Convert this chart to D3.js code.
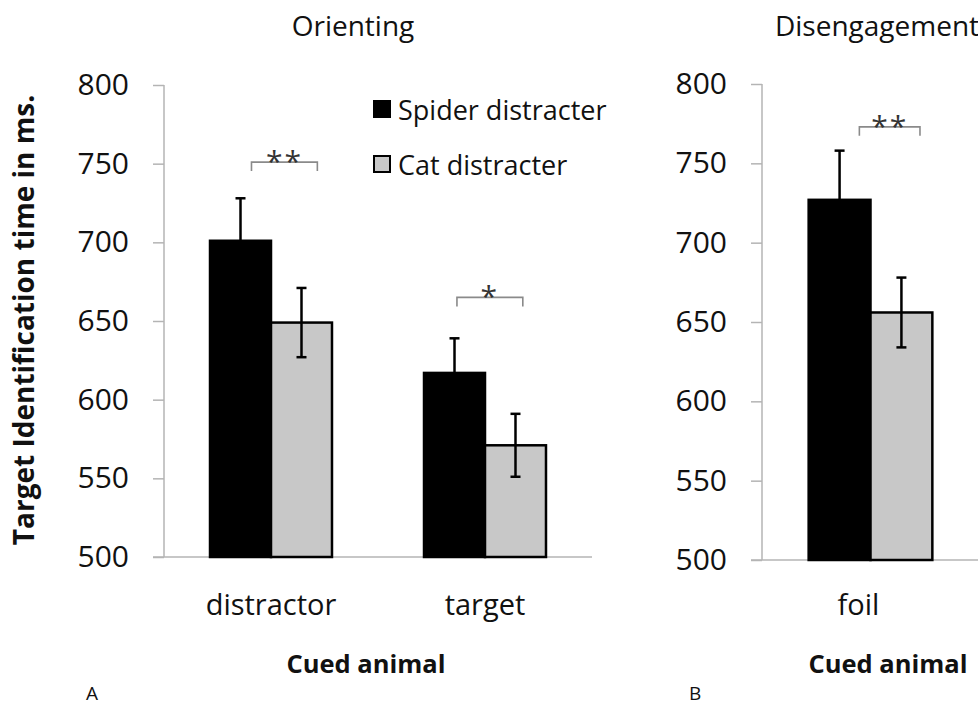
<!DOCTYPE html>
<html>
<head>
<meta charset="utf-8">
<script src="https://cdn.jsdelivr.net/npm/d3@7"></script>
<style>
  html, body { margin: 0; padding: 0; background: #fff; }
  svg { display: block; font-family: "Open Sans", "Noto Sans", sans-serif; }
</style>
</head>
<body>
<svg id="chart" width="978" height="705"></svg>
<script>
// Mean target identification times (ms) with error-bar half widths
const series = ["Spider distracter", "Cat distracter"];
const orientingCategories = ["distractor", "target"];
const orientingSpider = [701, 617];
const orientingCat = [649, 571];
const orientingSpiderErr = [27, 22];
const orientingCatErr = [22, 20];

const disengageCategories = ["foil"];
const disengageSpider = [727];
const disengageCat = [656];
const disengageSpiderErr = [31];
const disengageCatErr = [22];

const yTicks = [500, 550, 600, 650, 700, 750, 800];

// Significance markers: category, stars, level (ms)
const orientingSig = [
  { cat: "distractor", stars: "**", level: 751 },
  { cat: "target", stars: "*", level: 665 }
];
const disengageSig = [
  { cat: "foil", stars: "**", level: 773 }
];

const svg = d3.select("#chart");
const colors = { "Spider distracter": "#000000", "Cat distracter": "#c8c8c8" };
const axisGrey = "#b4b4b4";

function panel(opt) {
  const g = svg.append("g");
  const y = d3.scaleLinear().domain([500, 800]).range([opt.y0, opt.y1]);
  const x = d3.scaleBand().domain(opt.categories).range([opt.x0, opt.x1])
    .paddingInner(0.43).paddingOuter(0.215);
  const xs = d3.scaleBand().domain(series).range([0, x.bandwidth()]);

  // y axis: light grey line with outward ticks, large tick labels
  const yAxis = d3.axisLeft(y).tickValues(yTicks).tickSize(11).tickPadding(24);
  const ya = g.append("g").attr("transform", `translate(${opt.x0},0)`).call(yAxis);
  ya.select(".domain").attr("stroke", axisGrey).attr("stroke-width", 1.5)
    .attr("d", `M0,${opt.y1}V${opt.y0}`);
  ya.selectAll(".tick line").attr("stroke", axisGrey).attr("stroke-width", 1.5);
  ya.selectAll(".tick text").attr("font-size", 30).attr("fill", "#111")
    .attr("font-family", "'Open Sans', sans-serif");

  // x axis baseline
  g.append("line")
    .attr("x1", opt.x0 - 11).attr("x2", opt.x1)
    .attr("y1", y(500)).attr("y2", y(500))
    .attr("stroke", axisGrey).attr("stroke-width", 1.5);

  const rows = [];
  opt.categories.forEach((c, i) => {
    rows.push({ cat: c, s: series[0], v: opt.spider[i], e: opt.spiderErr[i] });
    rows.push({ cat: c, s: series[1], v: opt.cat[i], e: opt.catErr[i] });
  });

  // bars
  g.selectAll("rect.bar").data(rows).join("rect")
    .attr("class", "bar")
    .attr("x", d => x(d.cat) + xs(d.s))
    .attr("y", d => y(d.v))
    .attr("width", xs.bandwidth())
    .attr("height", d => y(500) - y(d.v))
    .attr("fill", d => colors[d.s])
    .attr("stroke", "#000").attr("stroke-width", 2.5);

  // error bars
  const eb = g.selectAll("g.err").data(rows).join("g").attr("class", "err");
  const cx = d => x(d.cat) + xs(d.s) + xs.bandwidth() / 2;
  eb.append("line")
    .attr("x1", cx).attr("x2", cx)
    .attr("y1", d => y(d.v + d.e)).attr("y2", d => y(d.v - d.e))
    .attr("stroke", "#000").attr("stroke-width", 2.5);
  eb.append("line")
    .attr("x1", d => cx(d) - 5).attr("x2", d => cx(d) + 5)
    .attr("y1", d => y(d.v + d.e)).attr("y2", d => y(d.v + d.e))
    .attr("stroke", "#000").attr("stroke-width", 2.5);
  eb.append("line")
    .attr("x1", d => cx(d) - 5).attr("x2", d => cx(d) + 5)
    .attr("y1", d => y(d.v - d.e)).attr("y2", d => y(d.v - d.e))
    .attr("stroke", "#000").attr("stroke-width", 2.5);

  // significance brackets
  opt.sig.forEach((s, i) => {
    const bx0 = x(s.cat) + x.bandwidth() * opt.bracket[i][0];
    const bx1 = x(s.cat) + x.bandwidth() * opt.bracket[i][1];
    const by = y(s.level);
    g.append("path")
      .attr("d", `M${bx0},${by + 9}V${by}H${bx1}V${by + 9}`)
      .attr("fill", "none").attr("stroke", "#8a8a8a").attr("stroke-width", 1.6);
    g.append("text")
      .attr("x", (bx0 + bx1) / 2).attr("y", by + 10)
      .attr("text-anchor", "middle").attr("font-size", 30)
      .attr("letter-spacing", 2).attr("fill", "#333")
      .text(s.stars);
  });

  // category labels
  g.selectAll("text.cat").data(opt.categories).join("text")
    .attr("class", "cat")
    .attr("x", d => x(d) + x.bandwidth() / 2 + opt.labelShift)
    .attr("y", 615)
    .attr("text-anchor", "middle").attr("font-size", 29).attr("fill", "#111")
    .text(d => d);

  // x axis title
  g.append("text")
    .attr("x", opt.xTitleX).attr("y", 673)
    .attr("text-anchor", "middle").attr("font-size", 25.5).attr("font-weight", 700)
    .attr("fill", "#111").text("Cued animal");

  // panel title
  g.append("text")
    .attr("x", opt.titleX).attr("y", 36)
    .attr("text-anchor", "middle").attr("font-size", 28).attr("fill", "#111")
    .text(opt.title);

  // panel letter
  g.append("text")
    .attr("x", opt.letterX).attr("y", 700)
    .attr("font-size", 19).attr("fill", "#111")
    .text(opt.letter);

  return { x, y };
}

panel({
  categories: orientingCategories,
  spider: orientingSpider, cat: orientingCat,
  spiderErr: orientingSpiderErr, catErr: orientingCatErr,
  sig: orientingSig, bracket: [[0.34, 0.88], [0.27, 0.81]],
  x0: 164, x1: 592, y0: 557, y1: 85,
  labelShift: 0, xTitleX: 366, titleX: 353, title: "Orienting",
  letterX: 86, letter: "A"
});

panel({
  categories: disengageCategories,
  spider: disengageSpider, cat: disengageCat,
  spiderErr: disengageSpiderErr, catErr: disengageCatErr,
  sig: disengageSig, bracket: [[0.41, 0.90]],
  x0: 762, x1: 979, y0: 560, y1: 84,
  labelShift: -12, xTitleX: 888, titleX: 877, title: "Disengagement",
  letterX: 689, letter: "B"
});

// shared y axis title
svg.append("text")
  .attr("transform", "translate(34,320) rotate(-90)")
  .attr("text-anchor", "middle").attr("font-size", 28).attr("font-weight", 700)
  .attr("fill", "#111").text("Target Identification time in ms.");

// legend
const legend = svg.append("g").attr("transform", "translate(373,100)");
series.forEach((s, i) => {
  const row = legend.append("g").attr("transform", `translate(0,${i * 55})`);
  row.append("rect").attr("x", 1).attr("y", 1).attr("width", 16).attr("height", 16)
    .attr("fill", colors[s]).attr("stroke", "#000").attr("stroke-width", 2);
  row.append("text").attr("x", 25).attr("y", 20)
    .attr("font-size", 27).attr("fill", "#111").text(s);
});
</script>
</body>
</html>
